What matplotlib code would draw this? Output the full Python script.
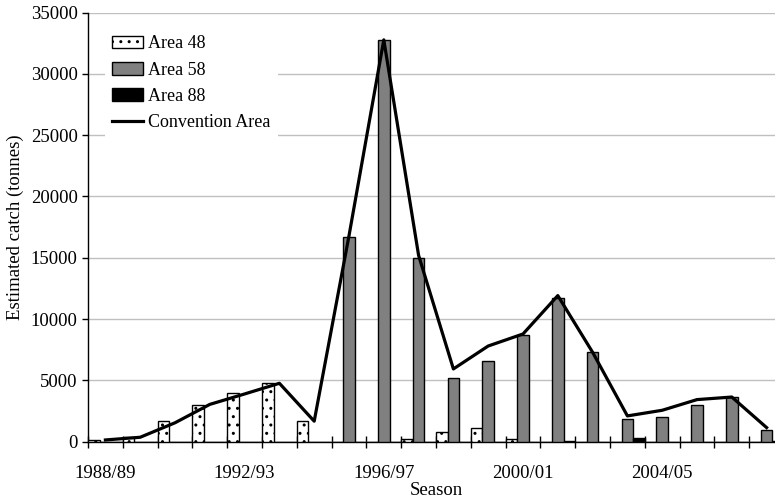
import matplotlib
matplotlib.use("Agg")
import matplotlib.pyplot as plt
import numpy as np

seasons = ["1988/89", "1989/90", "1990/91", "1991/92", "1992/93", "1993/94",
           "1994/95", "1995/96", "1996/97", "1997/98", "1998/99", "1999/00",
           "2000/01", "2001/02", "2002/03", "2003/04", "2004/05", "2005/06",
           "2006/07", "2007/08"]
area48 = [150, 370, 1680, 3020, 4000, 4770, 1700, 0, 0, 200, 780, 1100,
          200, 0, 0, 0, 0, 0, 0, 0]
area58 = [0, 0, 0, 0, 0, 0, 0, 16730, 32750, 15000, 5200, 6620,
          8710, 11750, 7360, 1890, 2020, 3000, 3650, 940]
area88 = [0, 0, 0, 0, 0, 0, 0, 0, 0, 0, 0, 0,
          0, 90, 0, 290, 0, 0, 0, 80]
convention = [150, 370, 1550, 3050, 3900, 4770, 1680, 16800, 32770, 15200,
              5940, 7810, 8790, 11920, 7300, 2110, 2570, 3440, 3650, 1160]
label_seasons = ["1988/89", "1992/93", "1996/97", "2000/01", "2004/05"]

plt.rcParams['font.family'] = ['Liberation Serif', 'DejaVu Serif']
plt.rcParams['hatch.linewidth'] = 1.0
plt.rcParams['hatch.color'] = '#505050'

W, H = 775, 499
fig = plt.figure(figsize=(W / 100, H / 100), dpi=100)
left, right, top, bottom = 88, 784, 12.5, 441.8
ax = fig.add_axes([left / W, 1 - bottom / H, (right - left) / W, (bottom - top) / H])

x = np.arange(len(seasons))
w = 1 / 3
b48 = ax.bar(x - w, area48, width=w, color='white', edgecolor='black', linewidth=1.0,
             hatch='..', label='Area 48', zorder=3)
b58 = ax.bar(x, area58, width=w, color='#808080', edgecolor='black', linewidth=1.0,
             label='Area 58', zorder=3)
b88 = ax.bar(x + w, area88, width=w, color='black', edgecolor='black', linewidth=1.0,
             label='Area 88', zorder=3)
ln, = ax.plot(x, convention, color='black', linewidth=2.3, label='Convention Area', zorder=4)

ax.set_xlim(-0.5, len(seasons) - 0.5)
ax.set_ylim(0, 35000)
ax.set_yticks(np.arange(0, 35001, 5000))
ax.yaxis.grid(True, color='#c0c0c0', linewidth=1.0, zorder=0)
ax.set_axisbelow(True)

major = [seasons.index(s) for s in label_seasons]
ax.set_xticks(major)
ax.set_xticklabels(label_seasons)
ax.set_xticks(np.arange(-0.5, len(seasons)), minor=True)
ax.tick_params(axis='x', which='major', length=0, pad=17, labelsize=13.5)
ax.tick_params(axis='x', which='minor', direction='inout', length=8, width=1.0)
ax.tick_params(axis='y', direction='out', length=4.5, width=1.0, pad=3, labelsize=13.5)

for s in ['top', 'right']:
    ax.spines[s].set_visible(False)
for s in ['left', 'bottom']:
    ax.spines[s].set_linewidth(1.0)
    ax.spines[s].set_color('black')

ax.set_xlabel('Season', fontsize=13.5, labelpad=0)
ax.set_ylabel('Estimated catch (tonnes)', fontsize=13.5, labelpad=5)

leg = ax.legend(handles=[b48, b58, b88, ln],
                labels=['Area 48', 'Area 58', 'Area 88', 'Convention Area'],
                loc='upper left', bbox_to_anchor=(105 / W, 1 - 28 / H),
                bbox_transform=fig.transFigure, fontsize=13, frameon=True,
                fancybox=False, edgecolor='none', facecolor='white', framealpha=1,
                handlelength=1.7, handletextpad=0.3, labelspacing=0.52,
                borderpad=0.4, borderaxespad=0)

fig.savefig('out.png', dpi=100)
